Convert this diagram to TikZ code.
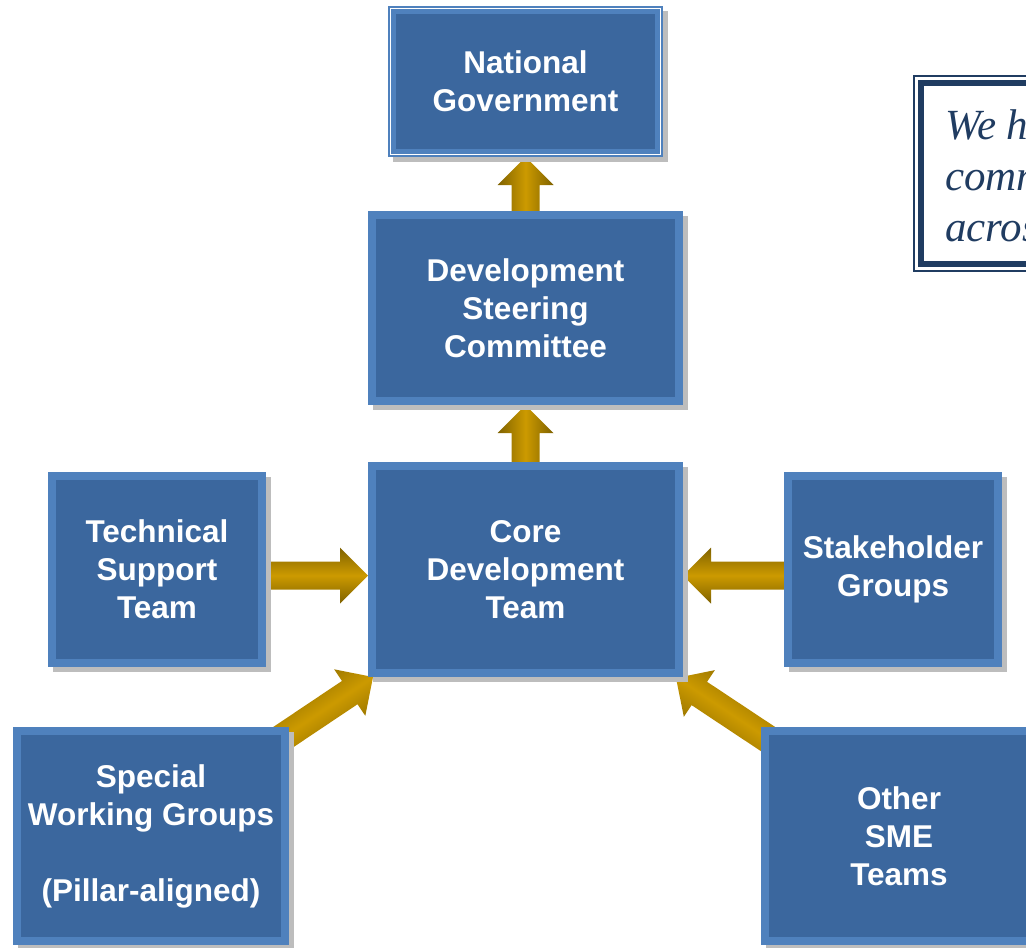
\documentclass[tikz,border=0pt]{standalone}
\usepackage{fontspec}
\setmainfont{Liberation Sans}
\newfontfamily\quotefont{Liberation Serif}
\usetikzlibrary{calc,shadows,backgrounds}

\definecolor{boxfill}{HTML}{3B679E}
\definecolor{boxedge}{HTML}{4F81BD}
\definecolor{arrowgold}{HTML}{CC9A00}
\definecolor{arrowdark}{HTML}{7F6200}
\definecolor{quotenavy}{HTML}{203C61}
\definecolor{shadowgray}{HTML}{BDBDBD}

\tikzset{
  team/.style={rectangle, fill=boxedge, text=white, align=center, inner sep=0pt, outer sep=0pt,
    font=\bfseries\fontsize{31.5}{38}\selectfont,
    drop shadow={shadow xshift=5pt, shadow yshift=-5pt, fill=shadowgray, opacity=1},
    path picture={\fill[boxfill] ([shift={(8pt,8pt)}]path picture bounding box.south west)
      rectangle ([shift={(-8pt,-8pt)}]path picture bounding box.north east);}},
  government/.style={team,
    path picture={\fill[boxfill] ([shift={(8pt,8pt)}]path picture bounding box.south west)
      rectangle ([shift={(-8pt,-8pt)}]path picture bounding box.north east);
      \draw[white, line width=1.2pt] ([shift={(2.5pt,2.5pt)}]path picture bounding box.south west)
      rectangle ([shift={(-2.5pt,-2.5pt)}]path picture bounding box.north east);}},
  goldarrow/.style={top color=arrowdark, bottom color=arrowdark, middle color=arrowgold, draw=none},
  quote/.style={text=quotenavy, align=left, inner sep=0pt, anchor=north west,
    font=\quotefont\itshape\fontsize{43}{51}\selectfont}
}

% tail, tip, shading angle
\newcommand{\blockarrow}[3]{%
  \coordinate (hb) at ($(#2)!28pt!(#1)$);
  \path[goldarrow, shading angle=#3] ($(#1)!14pt!90:(#2)$) -- ($(hb)!14pt!90:(#2)$)
    -- ($(hb)!28pt!90:(#2)$) -- (#2) -- ($(hb)!28pt!-90:(#2)$)
    -- ($(hb)!14pt!-90:(#2)$) -- ($(#1)!14pt!-90:(#2)$) -- cycle;
}

\begin{document}
\begin{tikzpicture}[x=1pt, y=-1pt]
    \useasboundingbox (0,0) rectangle (1026,948);

    \node[government, minimum width=275pt, minimum height=151pt] (NG) at (525.5,81.5) {National\\Government};
    \node[team, minimum width=315pt, minimum height=194pt] (DSC) at (525.5,308) {Development\\Steering\\Committee};
    \node[team, minimum width=315pt, minimum height=215pt] (Core) at (525.5,569.5) {Core\\Development\\Team};
    \node[team, minimum width=218pt, minimum height=195pt] (TST) at (157,569.5) {Technical\\Support\\Team};
    \node[team, minimum width=218pt, minimum height=195pt] (SG) at (893,569.5) {Stakeholder\\Groups};
    \node[team, minimum width=276pt, minimum height=218pt] (SWG) at (151,836) {Special\\Working Groups\\[38pt](Pillar-aligned)};
    \node[team, minimum width=276pt, minimum height=218pt] (OSME) at (899,836) {Other\\SME\\Teams};

    \coordinate (tstOut) at ($(TST.east)+(0,6)$);
    \coordinate (coreInL) at ($(Core.west)+(0,6)$);
    \coordinate (sgOut) at ($(SG.west)+(0,6)$);
    \coordinate (coreInR) at ($(Core.east)+(0,6)$);
    \coordinate (swgOut) at ($(SWG.north east)+(-19,19)$);
    \coordinate (coreSW) at ($(Core.south west)+(5,0)$);
    \coordinate (osmeOut) at ($(OSME.north west)+(19,20)$);
    \coordinate (coreSE) at ($(Core.south east)+(-7,1)$);

    \begin{pgfonlayer}{background}
    \blockarrow{DSC.north}{NG.south}{90}
    \blockarrow{Core.north}{DSC.south}{90}
    \blockarrow{tstOut}{coreInL}{0}
    \blockarrow{sgOut}{coreInR}{0}
    \blockarrow{swgOut}{coreSW}{33.7}
    \blockarrow{osmeOut}{coreSE}{-33.7}
    \end{pgfonlayer}

    \draw[quotenavy, line width=2pt] (914,76) rectangle (1100,271);
    \draw[quotenavy, line width=6.6pt] (921,83) rectangle (1100,264);
    \node[quote] (note) at (945,109.6) {We h\\comm\\acros};
\end{tikzpicture}
\end{document}
